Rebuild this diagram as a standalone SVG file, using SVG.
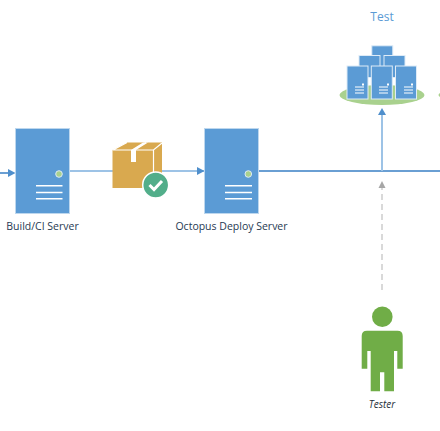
<svg xmlns="http://www.w3.org/2000/svg" width="440" height="431" viewBox="0 0 440 431">
<style>
.srv{fill:#5b9bd5;stroke:#bdd7ee;stroke-width:1}
.bar{stroke:#fff;stroke-width:1.5;fill:none}
.mini{fill:#5b9bd5;stroke:#deebf7;stroke-width:1}
.lbl{font-family:"Open Sans","Noto Sans",sans-serif;font-size:10.5px;fill:#1f3a52;text-anchor:middle}
.lite{stroke:#9dc3e6;stroke-width:2;fill:none}
.dark{stroke:#6a9fd3;stroke-width:2;fill:none}
.head{fill:#4f8fcc}
</style>
<rect width="440" height="431" fill="#fff"/>
<g id="connectors">
<path class="dark" d="M0 173H9"/>
<path class="head" d="M15.5 173L8 169V177Z"/>
<path class="lite" d="M69 171H205"/>
<path class="head" d="M204.500 171L197 167V175Z"/>
<path class="dark" d="M258 171H440"/>
<path class="lite" d="M382 171V114"/>
<path class="head" d="M382 108L378 115H386Z"/>
<path d="M382 290V187" stroke="#d9d9d9" stroke-width="2" stroke-dasharray="6 4" fill="none"/>
<path d="M382 181L378.500 188H385.500Z" fill="#a6a6a6"/>
</g>
<g id="build-server">
<rect class="srv" x="15.500" y="128.500" width="54" height="85"/>
<circle cx="59" cy="174" r="3.300" fill="#a9d18e" stroke="#deebf7"/>
<path class="bar" d="M36 185.700H62.500M36 192.500H62.500M36 198.700H62.500"/>
<text class="lbl" x="42.500" y="230">Build/CI Server</text>
</g>
<g id="package">
<path d="M112.500 150L127 142.500H162V178L153 188H112.500Z" fill="#d9a94f"/>
<path d="M112.500 150H153.500L162 143M153.500 150V188M127 142.500L113 150M146 142.500L133 150" stroke="#fff" stroke-width="1.200" fill="none"/>
<path d="M131 150H136V162H131Z" fill="#fff"/>
<path d="M131 150L143 142.500H148L136 150Z" fill="#fff"/>
<circle cx="155.700" cy="185" r="13" fill="#52ae8a" stroke="#fff" stroke-width="1.500"/>
<path d="M149.500 185L154 189.500L162 181" stroke="#fff" stroke-width="3" fill="none"/>
</g>
<g id="octopus-server">
<rect class="srv" x="204.500" y="128.500" width="54" height="85"/>
<circle cx="248.300" cy="174" r="3.300" fill="#a9d18e" stroke="#deebf7"/>
<path class="bar" d="M225 185.700H252M225 192.500H252M225 198.700H252"/>
<text class="lbl" x="231.500" y="230">Octopus Deploy Server</text>
</g>
<g id="test-env">
<text x="382" y="21" font-family="'Open Sans','Noto Sans',sans-serif" font-size="12" fill="#5b9bd5" text-anchor="middle">Test</text>
<ellipse cx="382" cy="95" rx="42.500" ry="10" fill="#a9d18e"/>
<ellipse cx="445" cy="95" rx="6.500" ry="3" fill="#a9d18e"/>
<rect class="mini" x="371.800" y="45.800" width="21" height="22"/>
<rect class="mini" x="359" y="55.500" width="21" height="22"/>
<rect class="mini" x="384" y="55.500" width="21" height="22"/>
<rect class="mini" x="347" y="66" width="21" height="33"/>
<rect class="mini" x="371.300" y="66" width="21" height="33"/>
<rect class="mini" x="395.500" y="66" width="21" height="33"/>
<path d="M355 87H364M355 90H364M355 93H364M379 87H388M379 90H388M379 93H388M404 87H413M404 90H413M404 93H413" stroke="#fff" stroke-width="1" fill="none"/>
<path d="M362 83.500h2v2h-2zM387 83.500h2v2h-2zM411 83.500h2v2h-2z" fill="#fff"/>
</g>
<g id="tester">
<circle cx="382.300" cy="316.700" r="10.300" fill="#70ad47"/>
<path d="M367 330.700H397.500Q402.700 330.700 402.700 336V368.700H397.300V351H394V391.300H384.300V372.300H380V391.300H370.700V351H367.300V368.700H361.700V336Q361.700 330.700 367 330.700Z" fill="#70ad47"/>
<text x="382" y="408" font-family="'Open Sans','Noto Sans',sans-serif" font-size="10" font-style="italic" fill="#1f2f3a" text-anchor="middle">Tester</text>
</g>
</svg>
